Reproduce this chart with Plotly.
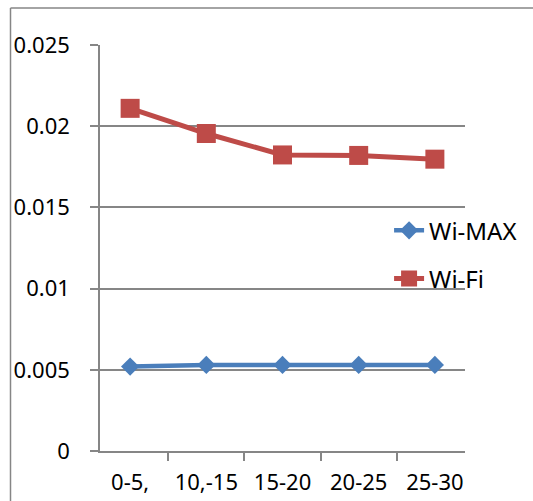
import plotly.graph_objects as go

categories = ["0-5,", "10,-15", "15-20", "20-25", "25-30"]
wimax = [0.0052, 0.0053, 0.0053, 0.0053, 0.0053]
wifi = [0.0211, 0.01955, 0.01823, 0.0182, 0.01797]
y_tick_vals = [0, 0.005, 0.01, 0.015, 0.02, 0.025]
y_tick_text = ["0", "0.005", "0.01", "0.015", "0.02", "0.025"]

FONT = "Noto Sans"
GRID = "#868686"

fig = go.Figure()
fig.add_trace(go.Scatter(
    x=categories, y=wimax, name="Wi-MAX", mode="lines+markers",
    line=dict(color="#4a7ebb", width=4.5),
    marker=dict(symbol="diamond", size=14, color="#4a7ebb"),
    legendgroup="a",
))
fig.add_trace(go.Scatter(
    x=categories, y=wifi, name="Wi-Fi", mode="lines+markers",
    line=dict(color="#be4b48", width=5),
    marker=dict(symbol="square", size=19, color="#be4b48"),
    legendgroup="b",
))

fig.update_layout(
    width=533, height=501,
    margin=dict(l=100, r=68, t=45, b=50, autoexpand=False),
    paper_bgcolor="white", plot_bgcolor="white",
    font=dict(family=FONT, size=22, color="black"),
    showlegend=True,
    legend=dict(
        x=0.792, y=0.598, xanchor="left", yanchor="top",
        bgcolor="rgba(0,0,0,0)", font=dict(size=24, family=FONT),
        tracegroupgap=14, itemsizing="trace",
    ),
    xaxis=dict(
        type="category", showgrid=False, showline=True, linecolor=GRID, linewidth=1.5,
        ticks="outside", ticklen=8, tickcolor=GRID, tickwidth=1.5, tickson="boundaries",
        ticklabelstandoff=11, tickfont=dict(size=22, family=FONT), automargin=False,
    ),
    yaxis=dict(
        range=[0, 0.025], tickvals=y_tick_vals, ticktext=y_tick_text,
        showgrid=True, gridcolor=GRID, gridwidth=1.5,
        showline=True, linecolor=GRID, linewidth=1.5, zeroline=False,
        ticks="outside", ticklen=8, tickcolor=GRID, tickwidth=1.5,
        ticklabelstandoff=16, tickfont=dict(size=22, family=FONT), automargin=False,
    ),
)

# outer chart-area frame: only left and top edges fall inside the picture
bx0 = (10.5 - 100) / 365
by1 = (451 - 8) / 406
fig.add_shape(type="line", xref="paper", yref="paper",
              x0=bx0, x1=bx0, y0=(451 - 700) / 406, y1=by1,
              line=dict(color=GRID, width=1.5), layer="below")
fig.add_shape(type="line", xref="paper", yref="paper",
              x0=bx0, x1=(700 - 100) / 365, y0=by1, y1=by1,
              line=dict(color=GRID, width=1.5), layer="below")

post = (
    "document.documentElement.style.margin='0px';"
    "document.documentElement.style.overflow='hidden';"
    "document.body.style.margin='0px';"
    "document.body.style.overflow='hidden';"
)
fig.write_html("out.html", post_script=post, config={"displayModeBar": False})
